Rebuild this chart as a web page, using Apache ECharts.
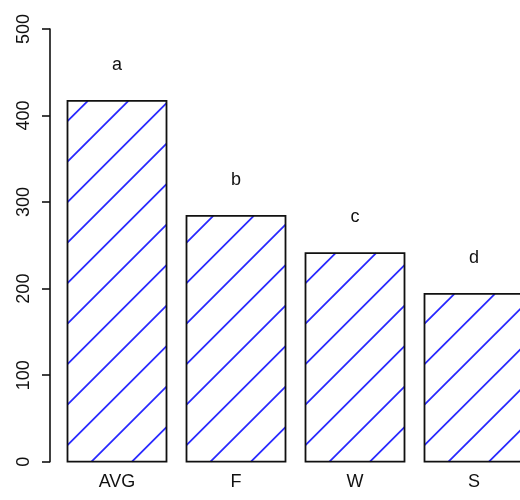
<!DOCTYPE html>
<html>
<head>
<meta charset="utf-8">
<script src="https://cdn.jsdelivr.net/npm/echarts@6/dist/echarts.min.js"></script>
<style>
  html, body { margin: 0; padding: 0; background: #fff; }
  #chart { width: 520px; height: 500px; }
</style>
</head>
<body>
<div id="chart"></div>
<script>
// Bar heights per group, with significance letters above each bar
var categories = ['AVG', 'F', 'W', 'S'];
var values = [417, 284, 241, 194];
var letters = ['a', 'b', 'c', 'd'];
var yTicks = [0, 100, 200, 300, 400, 500];

var FONT = '"Liberation Sans", Arial, sans-serif';
var HATCH_COLOR = '#2828ff';
var HATCH_STEP = 40.5;   // spacing of the diagonal lines, px along x
var HATCH_PHASE = 24;    // offset of the first line from the bottom-left corner
var BAR_WIDTH = 99;

var chart = echarts.init(document.getElementById('chart'), null, { renderer: 'canvas' });

function renderBar(params, api) {
  var idx = api.value(0);
  var val = api.value(1);
  var top = api.coord([idx, val]);
  var base = api.coord([idx, 0]);
  var x0 = top[0] - BAR_WIDTH / 2;
  var x1 = top[0] + BAR_WIDTH / 2;
  var yt = top[1];
  var yb = base[1];

  var children = [];
  // diagonal hatching: lines x + y = c, clipped to the bar rectangle
  var c0 = x0 + yb + HATCH_PHASE;
  var cMin = x0 + yt;
  var cMax = x1 + yb;
  var k = Math.floor((c0 - cMin) / HATCH_STEP);
  for (var c = c0 - k * HATCH_STEP; c <= cMax; c += HATCH_STEP) {
    var xa = Math.max(x0, c - yb);
    var xb = Math.min(x1, c - yt);
    if (xb - xa > 0.5) {
      children.push({
        type: 'line',
        shape: { x1: xa, y1: c - xa, x2: xb, y2: c - xb },
        style: { stroke: HATCH_COLOR, lineWidth: 1.8 }
      });
    }
  }
  children.push({
    type: 'rect',
    shape: { x: x0, y: yt, width: x1 - x0, height: yb - yt },
    style: { fill: 'none', stroke: '#111', lineWidth: 1.8 }
  });
  children.push({
    type: 'text',
    style: {
      text: letters[idx],
      x: top[0],
      y: yt - 36,
      align: 'center',
      verticalAlign: 'middle',
      fill: '#111',
      font: '18px ' + FONT
    }
  });
  return { type: 'group', children: children };
}

chart.setOption({
  animation: false,
  backgroundColor: '#fff',
  grid: {
    left: 57.5, top: 29, width: 476, height: 432.7,
    containLabel: false, outerBoundsMode: 'none'
  },
  xAxis: {
    type: 'category',
    data: categories,
    axisLine: { show: false },
    axisTick: { show: false },
    axisLabel: { margin: 11, color: '#111', fontSize: 18, fontFamily: FONT }
  },
  yAxis: {
    type: 'value',
    min: yTicks[0],
    max: yTicks[yTicks.length - 1],
    interval: yTicks[1] - yTicks[0],
    offset: 7.5,
    splitLine: { show: false },
    axisLine: { show: true, lineStyle: { color: '#111', width: 1.6 } },
    axisTick: { show: true, length: 8, lineStyle: { color: '#111', width: 1.6 } },
    axisLabel: { rotate: 90, margin: 17, color: '#111', fontSize: 18, fontFamily: FONT }
  },
  series: [{
    type: 'custom',
    renderItem: renderBar,
    clip: false,
    data: values.map(function (v, i) { return [i, v]; })
  }]
});
</script>
</body>
</html>
